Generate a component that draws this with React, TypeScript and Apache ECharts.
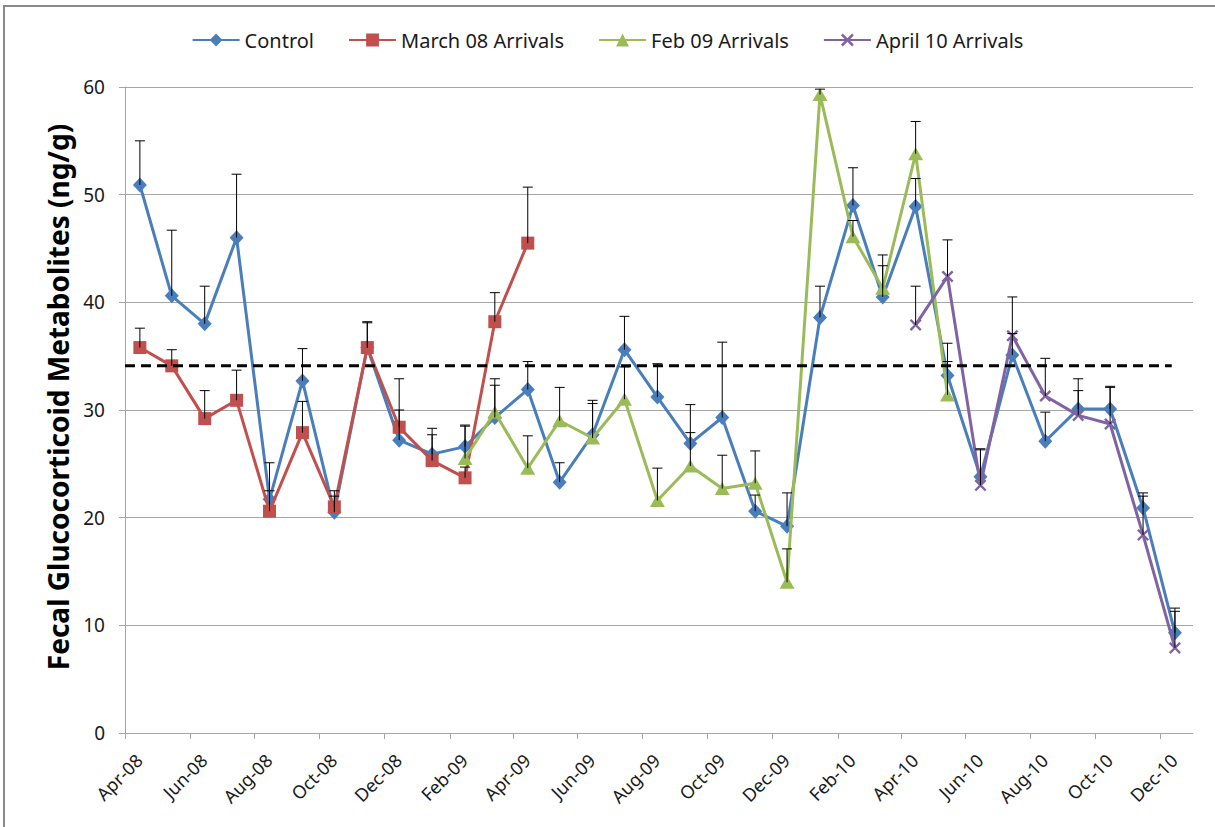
import React, { useEffect, useRef } from "react";
import * as echarts from "echarts";

// Sampling months (one sample per month, taken mid-month)
const months = [
  "Apr-08", "May-08", "Jun-08", "Jul-08", "Aug-08", "Sep-08", "Oct-08", "Nov-08", "Dec-08",
  "Jan-09", "Feb-09", "Mar-09", "Apr-09", "May-09", "Jun-09", "Jul-09", "Aug-09", "Sep-09",
  "Oct-09", "Nov-09", "Dec-09", "Jan-10", "Feb-10", "Mar-10", "Apr-10", "May-10", "Jun-10",
  "Jul-10", "Aug-10", "Sep-10", "Oct-10", "Nov-10", "Dec-10",
];

// Axis tick labels (every second month) and the axis end
const tickMonths = [
  "Apr-08", "Jun-08", "Aug-08", "Oct-08", "Dec-08", "Feb-09", "Apr-09", "Jun-09", "Aug-09",
  "Oct-09", "Dec-09", "Feb-10", "Apr-10", "Jun-10", "Aug-10", "Oct-10", "Dec-10",
];
const axisEndMonth = "Jan-11";
const SAMPLE_DAY = 15;

// Mean fecal glucocorticoid metabolites (ng/g) and upper error (SE)
const controlMean = [
  50.9, 40.6, 38.0, 46.0, 21.7, 32.7, 20.5, 35.8, 27.2, 25.9, 26.6, 29.3, 31.9, 23.3, 27.7, 35.6,
  31.2, 26.9, 29.3, 20.6, 19.2, 38.6, 49.0, 40.5, 48.9, 33.2, 23.8, 35.1, 27.1, 30.1, 30.1, 20.9, 9.3,
];
const controlErr = [
  4.1, 6.1, 3.5, 5.9, 3.4, 3.0, 2.0, 2.4, 2.8, 2.4, 2.0, 3.0, 2.6, 1.8, 3.2, 3.1,
  3.1, 3.6, 7.0, 1.5, 3.1, 2.9, 3.5, 3.9, 2.6, 3.0, 2.6, 2.0, 2.7, 2.8, 2.1, 1.4, 2.3,
];

const march08Mean = [35.8, 34.1, 29.2, 30.9, 20.6, 27.9, 21.0, 35.8, 28.4, 25.3, 23.7, 38.2, 45.5];
const march08Err = [1.8, 1.5, 2.6, 2.8, 1.9, 2.9, 1.0, 2.3, 4.5, 2.4, 1.0, 2.7, 5.2];
const march08Start = "Apr-08";

const feb09Mean = [25.5, 29.8, 24.6, 29.0, 27.4, 31.0, 21.6, 24.8, 22.7, 23.2, 14.0, 59.3, 46.1, 41.3, 53.8, 31.4];
const feb09Err = [3.0, 3.1, 3.0, 3.1, 3.2, 3.0, 3.0, 3.1, 3.1, 3.0, 3.1, 0.5, 1.5, 2.1, 3.0, 3.1];
const feb09Start = "Feb-09";

const april10Mean = [37.9, 42.4, 23.0, 36.9, 31.3, 29.5, 28.7, 18.4, 7.9];
const april10Err = [3.6, 3.4, 3.3, 3.6, 3.5, 2.3, 3.4, 3.6, 3.4];
const april10Start = "Apr-10";

// Reference level (dashed line) and its span
const referenceLevel = 34.1;
const referenceSpan = ["2008-04-01", "2010-12-12"];

const MON = ["Jan", "Feb", "Mar", "Apr", "May", "Jun", "Jul", "Aug", "Sep", "Oct", "Nov", "Dec"];
function monthTime(label: string, day = 1): number {
  const [m, y] = label.split("-");
  return Date.UTC(2000 + Number(y), MON.indexOf(m), day);
}
function dateTime(iso: string): number {
  const [y, m, d] = iso.split("-").map(Number);
  return Date.UTC(y, m - 1, d);
}

function points(start: string, mean: number[]) {
  const i0 = months.indexOf(start);
  return mean.map((v, i) => [monthTime(months[i0 + i], SAMPLE_DAY), v]);
}
function errRows(start: string, mean: number[], err: number[]) {
  const i0 = months.indexOf(start);
  return mean.map((v, i) => [monthTime(months[i0 + i], SAMPLE_DAY), v, err[i]]);
}

const FONT = "'Noto Sans', 'Open Sans', sans-serif";
const COLORS = ["#4A7EBB", "#C0504D", "#9BBB59", "#8064A2"];
const CROSS =
  "path://M0,1.4 L1.4,0 L5,3.6 L8.6,0 L10,1.4 L6.4,5 L10,8.6 L8.6,10 L5,6.4 L1.4,10 L0,8.6 L3.6,5 Z";

function errorBarSeries(name: string, rows: number[][]) {
  return {
    type: "custom",
    name,
    data: rows,
    encode: { x: 0, y: 1 },
    z: 10,
    silent: true,
    renderItem: (_params: any, api: any) => {
      const x = api.value(0);
      const y = api.value(1);
      const e = api.value(2);
      const p0 = api.coord([x, y]);
      const p1 = api.coord([x, y + e]);
      const style = { stroke: "#000", lineWidth: 1 };
      return {
        type: "group",
        children: [
          { type: "line", shape: { x1: p0[0], y1: p0[1], x2: p1[0], y2: p1[1] }, style },
          { type: "line", shape: { x1: p1[0] - 5, y1: p1[1], x2: p1[0] + 5, y2: p1[1] }, style },
        ],
      };
    },
  };
}

function lineSeries(name: string, data: number[][], color: string, symbol: string, size: any, z: number) {
  return {
    type: "line",
    name,
    data,
    color,
    symbol,
    symbolSize: size,
    showSymbol: true,
    z,
    lineStyle: { width: 3, color },
    itemStyle: { color },
  };
}

export default function App() {
  const ref = useRef<HTMLDivElement>(null);

  useEffect(() => {
    if (!ref.current) return;
    const chart = echarts.init(ref.current, undefined, { renderer: "svg" });
    const tickValues = tickMonths.map((m) => monthTime(m));
    const labelOf = new Map(tickValues.map((v, i) => [v, tickMonths[i]]));

    chart.setOption({
      animation: false,
      backgroundColor: "#ffffff",
      textStyle: { fontFamily: FONT },
      graphic: [
        {
          type: "rect",
          shape: { x: 4, y: 6, width: 1400, height: 1000 },
          style: { fill: "none", stroke: "#8a8a8a", lineWidth: 2 },
          silent: true,
        },
      ],
      legend: {
        top: 25,
        left: "center",
        itemWidth: 47,
        itemHeight: 16,
        itemGap: 34,
        data: ["Control", "March 08 Arrivals", "Feb 09 Arrivals", "April 10 Arrivals"],
        textStyle: { fontFamily: FONT, fontSize: 20, color: "#1a1a1a" },
      },
      grid: { left: 125, right: 22, top: 87, bottom: 94, containLabel: false, outerBoundsMode: "none" },
      xAxis: {
        type: "value",
        min: monthTime(tickMonths[0]),
        max: monthTime(axisEndMonth),
        splitLine: { show: false },
        axisLine: { show: true, lineStyle: { color: "#a6a6a6", width: 1 } },
        axisTick: {
          show: true,
          length: 6,
          inside: false,
          customValues: tickValues,
          lineStyle: { color: "#a6a6a6" },
        },
        axisLabel: {
          customValues: tickValues,
          rotate: 45,
          margin: 10,
          verticalAlign: "top",
          lineHeight: 40,
          fontFamily: FONT,
          fontSize: 18,
          color: "#1a1a1a",
          formatter: (v: number) => labelOf.get(v) ?? "",
        },
      },
      yAxis: {
        type: "value",
        min: 0,
        max: 60,
        interval: 10,
        name: "Fecal Glucocorticoid Metabolites (ng/g)",
        nameLocation: "middle",
        nameGap: 50,
        nameTextStyle: {
          fontFamily: FONT,
          fontSize: 28,
          fontWeight: "bold",
          color: "#000",
          padding: [0, 0, 0, 26],
        },
        axisLine: { show: true, lineStyle: { color: "#a6a6a6", width: 1 } },
        axisTick: { show: true, length: 6, inside: false, lineStyle: { color: "#a6a6a6" } },
        axisLabel: { fontFamily: FONT, fontSize: 19, color: "#1a1a1a", margin: 20 },
        splitLine: { show: true, lineStyle: { color: "#a6a6a6", width: 1 } },
      },
      series: [
        lineSeries("Control", points(months[0], controlMean), COLORS[0], "diamond", [14, 15], 2),
        lineSeries("March 08 Arrivals", points(march08Start, march08Mean), COLORS[1], "rect", 13, 3),
        lineSeries("Feb 09 Arrivals", points(feb09Start, feb09Mean), COLORS[2], "triangle", [15, 13], 4),
        lineSeries("April 10 Arrivals", points(april10Start, april10Mean), COLORS[3], CROSS, 12, 5),
        {
          type: "line",
          name: "reference",
          data: [
            [dateTime(referenceSpan[0]), referenceLevel],
            [dateTime(referenceSpan[1]), referenceLevel],
          ],
          showSymbol: false,
          symbol: "none",
          z: 6,
          silent: true,
          lineStyle: { color: "#000", width: 3, type: [10, 6] },
        },
        errorBarSeries("err-control", errRows(months[0], controlMean, controlErr)),
        errorBarSeries("err-march08", errRows(march08Start, march08Mean, march08Err)),
        errorBarSeries("err-feb09", errRows(feb09Start, feb09Mean, feb09Err)),
        errorBarSeries("err-april10", errRows(april10Start, april10Mean, april10Err)),
      ],
    });

    return () => chart.dispose();
  }, []);

  return (
    <div
      ref={ref}
      style={{ position: "fixed", left: 0, top: 0, width: 1215, height: 827, background: "#fff" }}
    />
  );
}
